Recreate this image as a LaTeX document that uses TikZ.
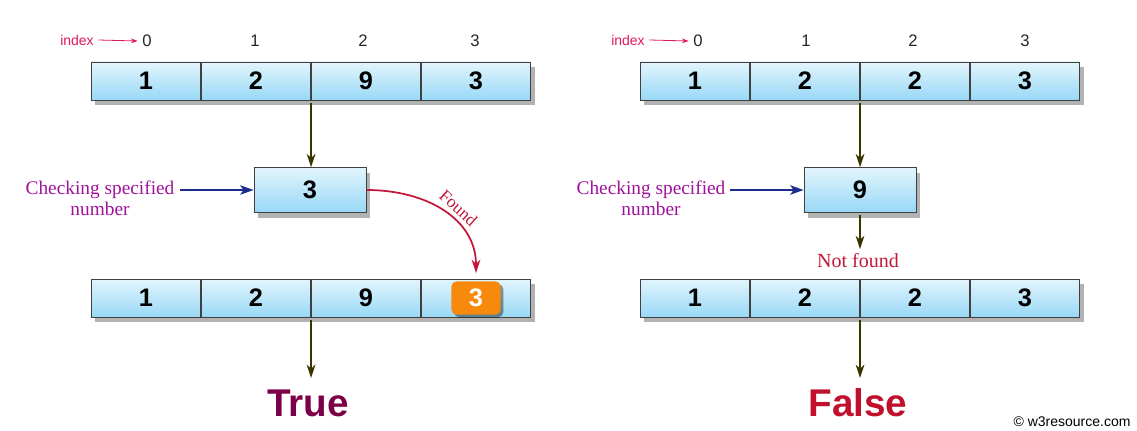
\documentclass[tikz,border=0pt]{standalone}
\usepackage{fontspec}
\setmainfont{Liberation Serif}
\setsansfont{Liberation Sans}
\usetikzlibrary{arrows.meta,shadows}
\definecolor{celltop}{HTML}{E2F5FD}
\definecolor{cellbot}{HTML}{98D8F6}
\definecolor{idxred}{HTML}{E0185A}
\definecolor{chkpurple}{HTML}{A0119C}
\definecolor{chkblue}{HTML}{1C2C8C}
\definecolor{foundred}{HTML}{C4163A}
\definecolor{darkarrow}{HTML}{3A3500}
\definecolor{truecol}{HTML}{7C0048}
\definecolor{falsecol}{HTML}{C0102C}
\definecolor{hitorange}{HTML}{F7890C}
\tikzset{
  cell/.style={draw=black!75, line width=0.6pt, minimum width=82pt, minimum height=28.5pt,
    top color=celltop, bottom color=cellbot, inner sep=0pt,
    font=\sffamily\bfseries\fontsize{19}{19}\selectfont,
    drop shadow={shadow xshift=3pt, shadow yshift=-4pt, opacity=0.3, fill=black}},
  keybox/.style={cell, minimum width=84pt, minimum height=33.5pt},
  hit/.style={fill=hitorange, rounded corners=4pt, minimum width=37pt, minimum height=25pt,
    text=white, inner sep=0pt, font=\sffamily\bfseries\fontsize{19}{19}\selectfont,
    drop shadow={shadow xshift=2pt, shadow yshift=-2pt, opacity=0.4, fill=black}},
  idx/.style={font=\sffamily\fontsize{12.5}{12.5}\selectfont, text=black!85},
  idxlabel/.style={font=\sffamily\fontsize{10.5}{10.5}\selectfont, text=idxred},
  chk/.style={font=\fontsize{14.5}{16}\selectfont, text=chkpurple, align=center},
  down/.style={draw=darkarrow, line width=1.3pt, -{Stealth[length=10pt,width=6.5pt,inset=3pt]}},
  feed/.style={draw=chkblue, line width=1.6pt, -{Stealth[length=10pt,width=7pt,inset=2.5pt]}},
  result/.style={font=\sffamily\bfseries\fontsize{29}{29}\selectfont}
}
\begin{document}
\begin{tikzpicture}[x=0.75pt, y=-0.75pt]
\useasboundingbox (0,0) rectangle (1137,431);
% left: value present
\node[cell] (a1) at (146,81) {1};
\node[cell] (a2) at (256,81) {2};
\node[cell] (a3) at (366,81) {9};
\node[cell] (a4) at (476,81) {3};
\node[idxlabel] (ia) at (77,40) {index};
\node[idx] (ia1) at (147,41) {0};
\node[idx] (ia2) at (255,41) {1};
\node[idx] (ia3) at (363,41) {2};
\node[idx] (ia4) at (475,41) {3};
\draw[idxred, line width=0.6pt, -{Stealth[length=5pt,width=3.5pt]}] (ia.east) -- (ia1.west);
\node[keybox] (k1) at (310,190) {3};
\node[chk] (c1) at (100,198) {Checking specified\\number};
\coordinate (s1) at (180,190);
\draw[feed] (s1) -- (k1.west);
\draw[down] ([yshift=-2pt]a2.south east) -- (a2.south east |- k1.north);
\node[cell] (b1) at (146,298) {1};
\node[cell] (b2) at (256,298) {2};
\node[cell] (b3) at (366,298) {9};
\node[cell] (b4) at (476,298) {};
\node[hit] (h1) at (476,298) {3};
\draw[foundred, line width=1.3pt, -{Stealth[length=10pt,width=6.5pt,inset=3pt]}, shorten >=6pt]
  (k1.east) to[out=0, in=90, looseness=1.1] node[pos=0.55, sloped, above=1pt, font=\fontsize{13}{13}\selectfont, text=foundred] {Found} (h1.north);
\coordinate (t1) at (310,378);
\draw[down] ([yshift=-2pt]b2.south east) -- (b2.south east |- t1);
\node[result, text=truecol] (r1) at (308,403) {True};
% right: value missing
\node[cell] (d1) at (695,81) {1};
\node[cell] (d2) at (805,81) {2};
\node[cell] (d3) at (915,81) {2};
\node[cell] (d4) at (1025,81) {3};
\node[idxlabel] (id) at (628,40) {index};
\node[idx] (id1) at (698,41) {0};
\node[idx] (id2) at (806,41) {1};
\node[idx] (id3) at (913,41) {2};
\node[idx] (id4) at (1025,41) {3};
\draw[idxred, line width=0.6pt, -{Stealth[length=5pt,width=3.5pt]}] (id.east) -- (id1.west);
\node[keybox] (k2) at (860,190) {9};
\node[chk] (c2) at (651,198) {Checking specified\\number};
\coordinate (s2) at (730,190);
\draw[feed] (s2) -- (k2.west);
\draw[down] ([yshift=-2pt]d2.south east) -- (d2.south east |- k2.north);
\node[cell] (e1) at (695,298) {1};
\node[cell] (e2) at (805,298) {2};
\node[cell] (e3) at (915,298) {2};
\node[cell] (e4) at (1025,298) {3};
\node[font=\fontsize{15}{15}\selectfont, text=foundred] (nf) at (858,261) {Not found};
\draw[down] ([yshift=-2pt]k2.south) -- (k2.south |- nf.north);
\coordinate (t2) at (860,378);
\draw[down] ([yshift=-2pt]e2.south east) -- (e2.south east |- t2);
\node[result, text=falsecol] (r2) at (858,403) {False};
\node[font=\sffamily\fontsize{10.5}{10.5}\selectfont] (cr) at (1072,422) {\textcopyright{} w3resource.com};
\end{tikzpicture}
\end{document}
